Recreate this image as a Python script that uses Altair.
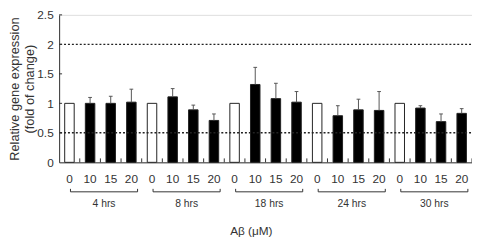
import altair as alt
import pandas as pd

groups = ["4 hrs", "8 hrs", "18 hrs", "24 hrs", "30 hrs"]
concs = ["0", "10", "15", "20"]
means = [
    [1.00, 1.00, 1.00, 1.02],
    [1.00, 1.11, 0.89, 0.71],
    [1.00, 1.32, 1.08, 1.02],
    [1.00, 0.79, 0.89, 0.88],
    [1.00, 0.92, 0.69, 0.83],
]
errors = [
    [0, 0.10, 0.12, 0.22],
    [0, 0.14, 0.08, 0.11],
    [0, 0.29, 0.26, 0.18],
    [0, 0.17, 0.18, 0.32],
    [0, 0.04, 0.13, 0.08],
]
ref_lines = [2.0, 0.5]
y_ticks = [0, 0.5, 1, 1.5, 2, 2.5]

FONT = "Liberation Sans"
TXT = "#333333"
W, H = 420, 150

rows = []
for g, grp in enumerate(groups):
    for c, conc in enumerate(concs):
        i = g * len(concs) + c
        rows.append(dict(idx=i, group=grp, conc=conc, mean=means[g][c], err=errors[g][c],
                         kind="control" if c == 0 else "treated"))
df = pd.DataFrame(rows)
df["xc"] = df["idx"] + 0.5
df["x0"] = df["idx"] + 0.27
df["x1"] = df["idx"] + 0.73
df["top"] = df["mean"] + df["err"]
df["c0"] = df["xc"] - 0.09
df["c1"] = df["xc"] + 0.09

gdf = pd.DataFrame(dict(group=groups, g=range(len(groups))))
gdf["b0"] = gdf["g"] * 4 + 0.55
gdf["b1"] = gdf["g"] * 4 + 3.8
gdf["bc"] = (gdf["b0"] + gdf["b1"]) / 2

tdf = pd.DataFrame(dict(t=[i + 1 for i in range(len(df))]))
ydf = pd.DataFrame(dict(v=y_ticks[1:]))
rdf = pd.DataFrame(dict(v=ref_lines))

xscale = alt.Scale(domain=[0, 20], nice=False, zero=False)
yscale = alt.Scale(domain=[0, 2.5], nice=False)

ax_x = alt.Axis(labels=False, ticks=False, grid=False, domainColor="#333333",
                title="Aβ (μM)", titleFont=FONT, titleFontSize=12,
                titleFontWeight="normal", titleColor=TXT,
                titleX=195, titleY=69, titleBaseline="middle")
ax_y = alt.Axis(values=y_ticks, format="~g", ticks=False, grid=False,
                domainColor="#333333", labelFont=FONT, labelFontSize=12,
                labelColor=TXT, labelPadding=6, labelOverlap=False,
                labelFlush=False, labelBound=False,
                title=["Relative gene expression", "(fold of change)"],
                titleFont=FONT, titleFontSize=13, titleFontWeight="normal",
                titleColor=TXT, titleX=-41, titleY=75, titleAngle=270,
                titleAlign="center", titleBaseline="alphabetic",
                titleLineHeight=15)


def X(f):
    return alt.X(f, scale=xscale, axis=ax_x)


def Y(f):
    return alt.Y(f, scale=yscale, axis=ax_y)


base = alt.Chart(df)

bars = base.mark_bar(stroke="#222222", strokeWidth=1).encode(
    x=X("x0:Q"), x2="x1:Q", y=Y("mean:Q"), y2=alt.datum(0),
    fill=alt.Fill("kind:N", scale=alt.Scale(domain=["control", "treated"],
                                              range=["white", "black"]), legend=None),
)

err_df = base.transform_filter("datum.err > 0")
err_line = err_df.mark_rule(color="#555555", strokeWidth=1).encode(
    x=X("xc:Q"), y=Y("mean:Q"), y2="top:Q")
err_cap = err_df.mark_rule(color="#555555", strokeWidth=1).encode(
    x=X("c0:Q"), x2="c1:Q", y=Y("top:Q"))

xticks = alt.Chart(tdf).mark_rule(color="#333333").encode(
    x=X("t:Q"), y=alt.value(H), y2=alt.value(H - 4))
yticks = alt.Chart(ydf).mark_rule(color="#333333").encode(
    y=Y("v:Q"), x=alt.value(0), x2=alt.value(3))

refs = alt.Chart(rdf).mark_rule(color="#222222", strokeWidth=1.5, strokeDash=[2, 2]).encode(
    y=Y("v:Q"), x=alt.value(1), x2=alt.value(W))

conc_txt = base.mark_text(font=FONT, fontSize=12, color=TXT, baseline="middle").encode(
    x=X("xc:Q"), y=alt.value(H + 17), text="conc:N")

gbase = alt.Chart(gdf)
br_h = gbase.mark_rule(color="#333333").encode(x=X("b0:Q"), x2="b1:Q", y=alt.value(H + 30))
br_l = gbase.mark_rule(color="#333333").encode(x=X("b0:Q"), y=alt.value(H + 30), y2=alt.value(H + 27))
br_r = gbase.mark_rule(color="#333333").encode(x=X("b1:Q"), y=alt.value(H + 30), y2=alt.value(H + 27))
g_txt = gbase.mark_text(font=FONT, fontSize=10.5, color=TXT, baseline="middle").encode(
    x=X("bc:Q"), y=alt.value(H + 42), text="group:N")

chart = alt.layer(
    bars, err_line, err_cap, refs, xticks, yticks, conc_txt, br_h, br_l, br_r, g_txt
).properties(
    width=W, height=H,
    autosize=alt.AutoSizeParams(type="none"),
    padding={"left": 52, "top": 5, "right": 0, "bottom": 76},
).configure_view(stroke=None).configure(background="white")

chart.save("out.html", embed_options={"renderer": "svg", "actions": False})
